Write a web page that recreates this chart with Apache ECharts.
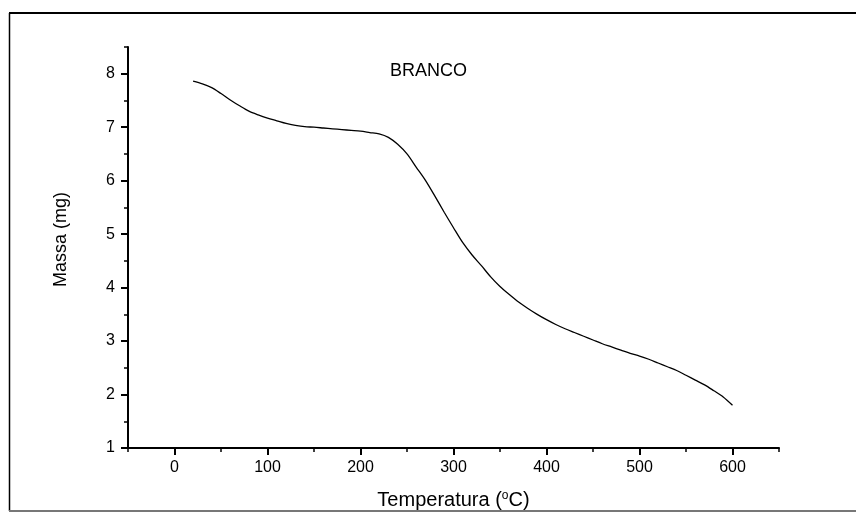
<!DOCTYPE html>
<html>
<head>
<meta charset="utf-8">
<script src="https://cdn.jsdelivr.net/npm/echarts@6/dist/echarts.min.js"></script>
<style>
  html, body { margin: 0; padding: 0; background: #fff; }
  #chart { width: 856px; height: 522px; }
</style>
</head>
<body>
<div id="chart"></div>
<script>
// temperatura (°C) e massa (mg)
const temperatura = [20, 30, 40, 50, 60, 70, 80, 90, 100, 110, 120, 130, 140, 150, 160, 170, 180, 190, 200,
  210, 220, 230, 240, 250, 260, 270, 280, 290, 300, 310, 320, 330, 340, 350, 360, 370, 380, 390, 400,
  410, 420, 430, 440, 450, 460, 470, 480, 490, 500, 510, 520, 530, 540, 550, 560, 570, 580, 590, 600]
const massa = [7.86, 7.81, 7.74, 7.63, 7.51, 7.40, 7.30, 7.23, 7.17, 7.12, 7.07, 7.035, 7.01, 7.00, 6.985, 6.97, 6.955, 6.94, 6.925,
  6.90, 6.875, 6.81, 6.68, 6.50, 6.25, 6.00, 5.71, 5.41, 5.12, 4.84, 4.61, 4.41, 4.20, 4.02, 3.87, 3.73, 3.61, 3.50, 3.40,
  3.31, 3.23, 3.16, 3.09, 3.02, 2.95, 2.89, 2.83, 2.77, 2.72, 2.66, 2.59, 2.52, 2.45, 2.36, 2.27, 2.18, 2.07, 1.955, 1.80]

// marcas dos eixos
const xTicks = [0, 100, 200, 300, 400, 500, 600]
const xMinorTicks = [-50, 50, 150, 250, 350, 450, 550, 650]
const yTicks = [1, 2, 3, 4, 5, 6, 7, 8]
const yMinorTicks = [1.5, 2.5, 3.5, 4.5, 5.5, 6.5, 7.5, 8.5]

const chart = echarts.init(document.getElementById('chart'))

const font = 'Liberation Sans, Arial, sans-serif'

const option = {
  animation: false,
  backgroundColor: '#fff',
  grid: { left: 128, right: 77, top: 47, bottom: 74 },
  graphic: [
    // moldura
    { type: 'line', shape: { x1: 9, y1: 13, x2: 856, y2: 13 }, style: { stroke: '#000', lineWidth: 2 } },
    { type: 'line', shape: { x1: 9.5, y1: 13, x2: 9.5, y2: 511 }, style: { stroke: '#000', lineWidth: 1.5 } },
    { type: 'line', shape: { x1: 9, y1: 511, x2: 856, y2: 511 }, style: { stroke: '#777', lineWidth: 2 } },
    {
      type: 'text', left: 390, top: 62,
      style: { text: 'BRANCO', fontSize: 18, fontFamily: font, fill: '#000' }
    }
  ],
  xAxis: [
    {
      type: 'value', min: -50, max: 650,
      name: '{a|Temperatura (}{s|o}{a|C)}',
      nameLocation: 'middle', nameGap: 42,
      nameTextStyle: {
        rich: {
          a: { fontSize: 20, fontFamily: font, color: '#000' },
          s: { fontSize: 12, fontFamily: font, color: '#000', padding: [0, 0, 9, 0] }
        }
      },
      axisLine: { show: true, onZero: false, lineStyle: { color: '#000', width: 2 } },
      axisTick: { show: true, inside: false, length: 7, customValues: xTicks, lineStyle: { color: '#000', width: 2 } },
      axisLabel: { show: true, margin: 12, customValues: xTicks, fontSize: 16, fontFamily: font, color: '#000' },
      splitLine: { show: false }
    },
    {
      type: 'value', min: -50, max: 650, position: 'bottom',
      axisLine: { show: false, onZero: false },
      axisTick: { show: true, inside: false, length: 4, customValues: xMinorTicks, lineStyle: { color: '#000', width: 1.5 } },
      axisLabel: { show: false },
      splitLine: { show: false }
    }
  ],
  yAxis: [
    {
      type: 'value', min: 1, max: 8.5,
      name: 'Massa (mg)',
      nameLocation: 'middle', nameGap: 58,
      nameTextStyle: { fontSize: 18, fontFamily: font, color: '#000', padding: [0, 0, 0, 16] },
      axisLine: { show: true, onZero: false, lineStyle: { color: '#000', width: 2 } },
      axisTick: { show: true, inside: false, length: 7, customValues: yTicks, lineStyle: { color: '#000', width: 2 } },
      axisLabel: { show: true, margin: 13, customValues: yTicks, fontSize: 16, fontFamily: font, color: '#000' },
      splitLine: { show: false }
    },
    {
      type: 'value', min: 1, max: 8.5, position: 'left',
      axisLine: { show: false, onZero: false },
      axisTick: { show: true, inside: false, length: 4, customValues: yMinorTicks, lineStyle: { color: '#000', width: 1.5 } },
      axisLabel: { show: false },
      splitLine: { show: false }
    }
  ],
  series: [
    {
      name: 'BRANCO',
      type: 'line',
      data: temperatura.map((t, i) => [t, massa[i]]),
      showSymbol: false,
      smooth: 0.3,
      lineStyle: { color: '#000', width: 1.3 }
    }
  ]
}

chart.setOption(option)
</script>
</body>
</html>
